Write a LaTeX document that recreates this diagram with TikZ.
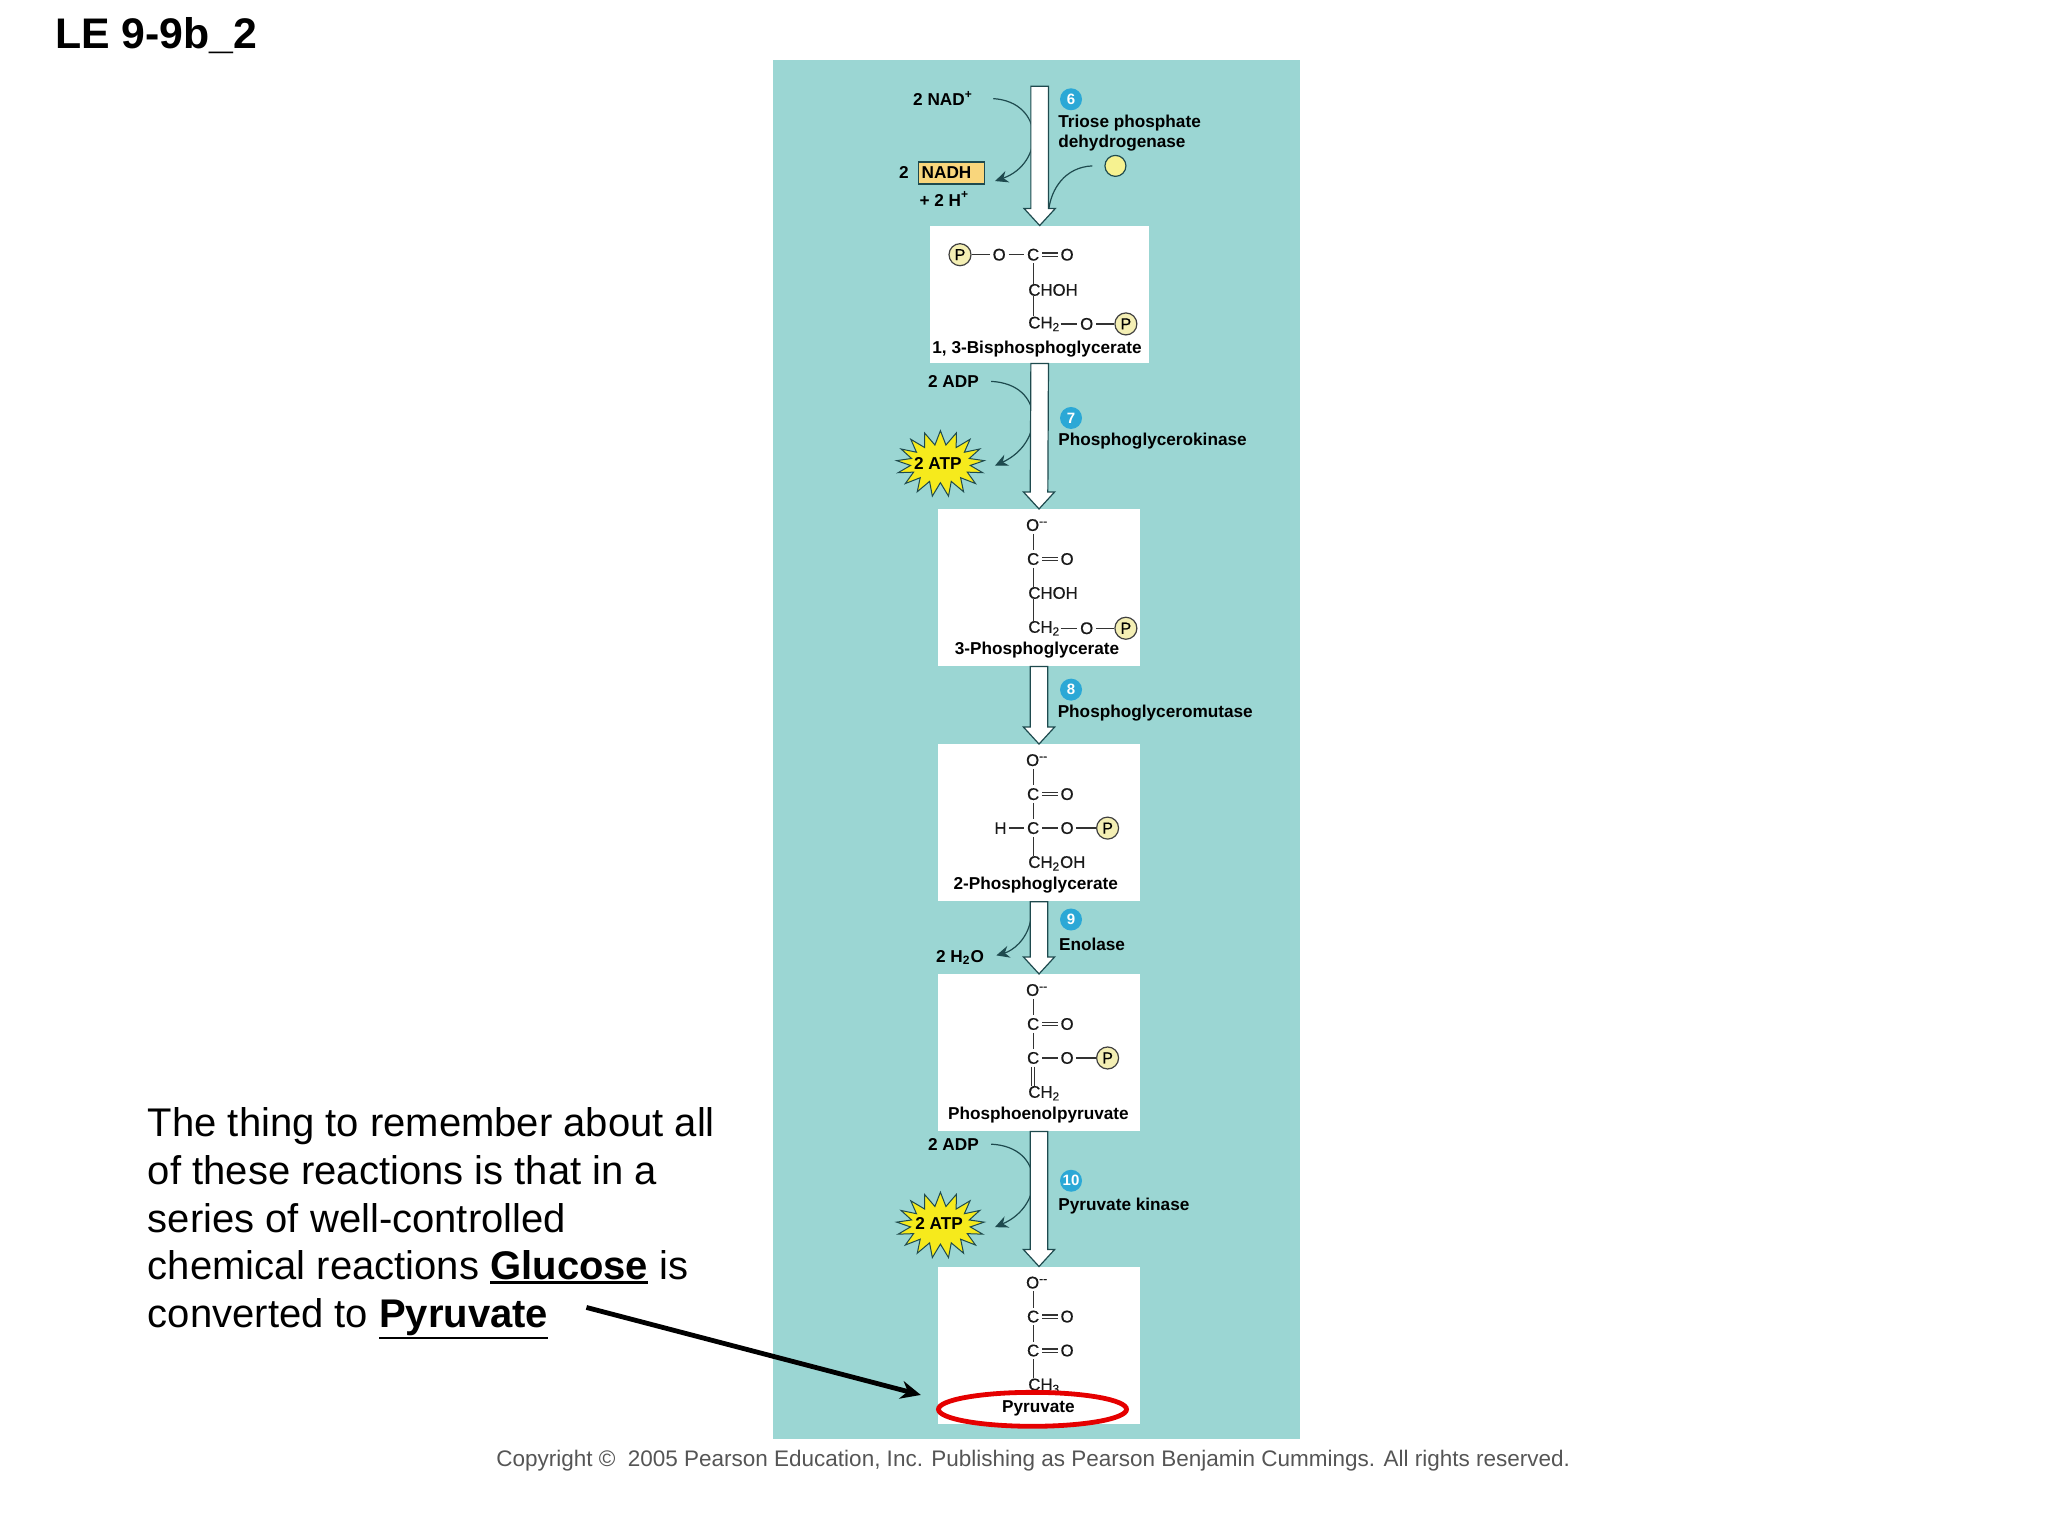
\documentclass[tikz,border=0pt]{standalone}
\usepackage{fontspec}
\setmainfont{Liberation Sans}
\newfontfamily\chemfont[FakeBold=0.5]{Liberation Sans}
\usepackage{tikz}
\usetikzlibrary{shapes.symbols,arrows.meta}
\newcommand{\thickul}[1]{\leavevmode\vtop{\hbox{#1}\kern0.6pt\hrule height 1.1pt}}
\definecolor{panelteal}{HTML}{9BD6D3}
\definecolor{darkteal}{HTML}{1E4A4E}
\definecolor{dotblue}{HTML}{2BA8D6}
\definecolor{nadhgold}{HTML}{F9D67C}
\definecolor{phosyellow}{HTML}{F4EFB4}
\definecolor{burstyellow}{HTML}{F6EA1C}
\definecolor{notegray}{HTML}{555555}
\tikzset{
  lab/.style={font=\fontsize{8.6}{10.4}\selectfont\bfseries,inner sep=1pt,align=left},
  chem/.style={font=\fontsize{8.4}{10}\chemfont,text=black!90,inner sep=1.2pt},
  chemw/.style={chem,anchor=west,inner sep=0pt},
  bond/.style={draw=black!80,line width=0.6pt},
  dblbond/.style={bond,double=white,double distance=1pt},
  molbox/.style={fill=white,inner sep=0pt},
  phosdot/.style={circle,draw=black!75,fill=phosyellow,line width=0.6pt,inner sep=0pt,minimum size=11pt,font=\fontsize{8}{8}\chemfont},
  numdot/.style={circle,fill=dotblue,text=white,inner sep=0pt,minimum size=11pt,font=\fontsize{7.5}{7.5}\selectfont\bfseries},
  smallcurve/.style={draw=darkteal,line width=0.6pt},
  tipcurve/.style={smallcurve,-{Stealth[length=6.5pt,width=6pt]}},
  flowarrow/.style={draw=darkteal,fill=white,line width=0.6pt,line join=miter},
  atpburst/.style={starburst,starburst points=17,starburst point height=7pt,random starburst=0,draw=darkteal,fill=burstyellow,line width=0.5pt,minimum width=44pt,minimum height=33pt,inner sep=0pt}
}
\begin{document}
\begin{tikzpicture}[x=0.65306pt,y=-0.65306pt]
\useasboundingbox (0,0) rectangle (1568,1176);
\fill[panelteal] (592,46) rectangle (995,1102);
\node[font=\fontsize{21.4}{24}\selectfont\bfseries,anchor=west,inner sep=0pt] (title) at (42,27) {LE 9-9b\_2};
\node[font=\fontsize{20}{23.8}\selectfont,anchor=north west,align=left,inner sep=0pt] (note) at (113,848) {The thing to remember about all\\of these reactions is that in a\\series of well-controlled\\chemical reactions \thickul{\textbf{Glucose}} is\\converted to \thickul{\textbf{Pyruvate}}};
\node[font=\fontsize{11.25}{14}\selectfont,text=notegray,inner sep=0pt] (copy) at (791,1118.5) {Copyright ©\ \ 2005 Pearson Education, Inc. Publishing as Pearson Benjamin Cummings. All rights reserved.};
\node[molbox,minimum width=109.7pt,minimum height=68.6pt] (b1) at (796,225.5) {};
\node[molbox,minimum width=101.2pt,minimum height=78.4pt] (b2) at (795.5,450) {};
\node[molbox,minimum width=101.2pt,minimum height=78.4pt] (b3) at (795.5,630) {};
\node[molbox,minimum width=101.2pt,minimum height=78.4pt] (b4) at (795.5,806) {};
\node[molbox,minimum width=101.2pt,minimum height=78.4pt] (b5) at (795.5,1030) {};
\node[lab] (nad) at (722,75.5) {2 NAD\textsuperscript{+}};
\node[lab] (two) at (692,132) {2};
\node[lab,draw=darkteal,fill=nadhgold,line width=0.6pt,minimum width=33pt,minimum height=11pt,inner sep=0pt] (nadh) at (728.5,132.5) {NADH\hspace{5pt}};
\node[lab] (hplus) at (723,152.5) {+ 2 H\textsuperscript{+}};
\node[circle,draw=darkteal,fill=phosyellow!80!yellow,line width=0.6pt,minimum size=10.5pt,inner sep=0pt] (cofac) at (854,127) {};
\node[lab] (adpa) at (730,292) {2 ADP};
\node[atpburst] (atpa) at (720,355) {};
\node[lab] at (718,355) (atpatxt) {2 ATP};
\node[lab] (water) at (735,733) {2 H\textsubscript{2}O};
\node[lab] (adpb) at (730,876) {2 ADP};
\node[atpburst] (atpb) at (720,938) {};
\node[lab] at (719,937) (atpbtxt) {2 ATP};
\coordinate (shunt) at (803,160);
\coordinate (waterstart) at (789,705);
\draw[tipcurve] ([xshift=9pt]nad.east) .. controls (800,78) and (800,125) .. ([shift={(5pt,-4pt)}]nadh.east);
\draw[smallcurve] ([xshift=-6pt]cofac.west) .. controls (815,128) and (805,145) .. (shunt);
\draw[tipcurve] ([xshift=5pt]adpa.east) .. controls (800,294) and (800,339) .. ([xshift=9pt,yshift=-1pt]atpa.east);
\draw[tipcurve] (waterstart) .. controls (786,720) and (775,728) .. ([xshift=5pt,yshift=1pt]water.east);
\draw[tipcurve] ([xshift=5pt]adpb.east) .. controls (800,878) and (800,923) .. ([xshift=9pt,yshift=-1pt]atpb.east);
\coordinate (start) at (796,66);
\foreach \from/\to in {start/b1.north,b1.south/b2.north,b2.south/b3.north,b3.south/b4.north,b4.south/b5.north}
  \draw[flowarrow] ([xshift=-4.4pt]\from) -- ([xshift=-4.4pt,yshift=8.5pt]\to) -- ([xshift=-7.8pt,yshift=8.5pt]\to) -- (\to) -- ([xshift=7.8pt,yshift=8.5pt]\to) -- ([xshift=4.4pt,yshift=8.5pt]\to) -- ([xshift=4.4pt]\from) -- cycle;
\node[numdot] (sixdot) at (820,76) {6};
\node[lab,anchor=north west] (gapdh) at (808.5,86) {Triose phosphate\\dehydrogenase};
\node[numdot] (sevendot) at (820,320) {7};
\node[lab,anchor=west] (pgk) at (808.5,338) {Phosphoglycerokinase};
\node[numdot] (eightdot) at (820,528) {8};
\node[lab,anchor=west] (pgm) at (808,546) {Phosphoglyceromutase};
\node[numdot] (ninedot) at (820,704) {9};
\node[lab,anchor=west] (eno) at (809,723) {Enolase};
\node[numdot] (tendot) at (820,904) {10};
\node[lab,anchor=west] (pk) at (808.5,923) {Pyruvate kinase};
% 1,3-bisphosphoglycerate
\node[phosdot] (pa) at (735,195) {P};
\node[chem] (oa) at (765,195) {O};
\node[chem] (ca) at (791,195) {C};
\node[chem] (oaa) at (817,195) {O};
\node[chemw] (choha) at (787,222) {CHOH};
\node[chemw] (cha) at (787,248) {CH\textsubscript{2}};
\node[chem] (oab) at (832,248) {O};
\node[phosdot] (pab) at (862,248) {P};
\node[lab] (namea) at (794,267) {1, 3-Bisphosphoglycerate};
\draw[bond] (pa) -- (oa);
\draw[bond] (oa) -- (ca);
\draw[dblbond] (ca) -- (oaa);
\draw[bond] (ca) -- (ca |- choha.north);
\draw[bond] (ca |- choha.south) -- (ca |- cha.north);
\draw[bond] (cha) -- (oab);
\draw[bond] (oab) -- (pab);
% 3-phosphoglycerate
\node[chem] (ob) at (794,402) {O\textsuperscript{--}};
\node[chem] (cb) at (791,428) {C};
\node[chem] (obb) at (817,428) {O};
\node[chemw] (chohb) at (787,454) {CHOH};
\node[chemw] (chb) at (787,481) {CH\textsubscript{2}};
\node[chem] (obc) at (832,481) {O};
\node[phosdot] (pb) at (862,481) {P};
\node[lab] (nameb) at (794,498) {3-Phosphoglycerate};
\draw[bond] (ob.south -| cb) -- (cb);
\draw[dblbond] (cb) -- (obb);
\draw[bond] (cb) -- (cb |- chohb.north);
\draw[bond] (cb |- chohb.south) -- (cb |- chb.north);
\draw[bond] (chb) -- (obc);
\draw[bond] (obc) -- (pb);
% 2-phosphoglycerate
\node[chem] (oc) at (794,582) {O\textsuperscript{--}};
\node[chem] (cc) at (791,608) {C};
\node[chem] (occ) at (817,608) {O};
\node[chem] (hc) at (766,634) {H};
\node[chem] (ccc) at (791,634) {C};
\node[chem] (ocd) at (817,634) {O};
\node[phosdot] (pc) at (848,634) {P};
\node[chemw] (chc) at (787,661) {CH\textsubscript{2}OH};
\node[lab] (namec) at (793,678) {2-Phosphoglycerate};
\draw[bond] (oc.south -| cc) -- (cc);
\draw[dblbond] (cc) -- (occ);
\draw[bond] (cc) -- (ccc);
\draw[bond] (hc) -- (ccc);
\draw[bond] (ccc) -- (ocd);
\draw[bond] (ocd) -- (pc);
\draw[bond] (ccc) -- (ccc |- chc.north);
% phosphoenolpyruvate
\node[chem] (od) at (794,758) {O\textsuperscript{--}};
\node[chem] (cd) at (791,784) {C};
\node[chem] (odd) at (817,784) {O};
\node[chem] (cdd) at (791,810) {C};
\node[chem] (ode) at (817,810) {O};
\node[phosdot] (pd) at (848,810) {P};
\node[chemw] (chd) at (787,837) {CH\textsubscript{2}};
\node[lab] (named) at (795,854) {Phosphoenolpyruvate};
\draw[bond] (od.south -| cd) -- (cd);
\draw[dblbond] (cd) -- (odd);
\draw[bond] (cd) -- (cdd);
\draw[bond] (cdd) -- (ode);
\draw[bond] (ode) -- (pd);
\draw[dblbond] (cdd) -- (cdd |- chd.north);
% pyruvate
\node[chem] (oe) at (794,982) {O\textsuperscript{--}};
\node[chem] (ce) at (791,1008) {C};
\node[chem] (oee) at (817,1008) {O};
\node[chem] (cee) at (791,1034) {C};
\node[chem] (oef) at (817,1034) {O};
\node[chemw] (che) at (787,1061) {CH\textsubscript{3}};
\draw[bond] (oe.south -| ce) -- (ce);
\draw[dblbond] (ce) -- (oee);
\draw[bond] (ce) -- (cee);
\draw[dblbond] (cee) -- (oef);
\draw[bond] (cee) -- (cee |- che.north);
\draw[draw=red!90!black,fill=white,line width=2.4pt] (790.5,1079) ellipse (72 and 13);
\node[lab] (namee) at (795,1078.5) {Pyruvate};
\coordinate (notetail) at (449,1001);
\coordinate (pyrpoint) at (705,1068);
\draw[line width=2.4pt,-{Stealth[length=10pt,width=9pt]}] (notetail) -- (pyrpoint);
\end{tikzpicture}
\end{document}
